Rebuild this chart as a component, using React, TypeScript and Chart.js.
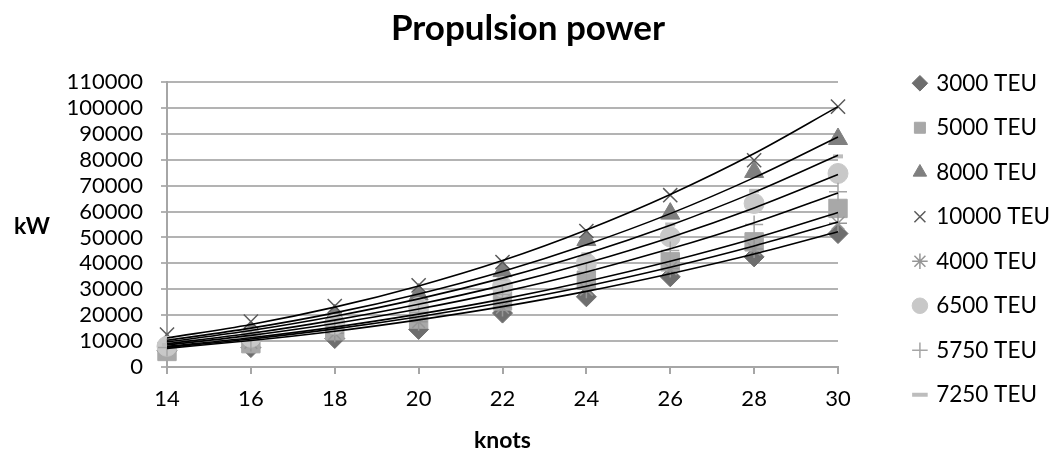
import React, { useEffect, useRef } from 'react';
import { Chart, registerables } from 'chart.js';
Chart.register(...registerables);

const chartTitle = 'Propulsion power';
const xAxisTitle = 'knots';
const yAxisTitle = 'kW';

const knots = [14, 16, 18, 20, 22, 24, 26, 28, 30];

// Series order as in the legend
const seriesLabels = ['3000 TEU', '5000 TEU', '8000 TEU', '10000 TEU', '4000 TEU', '6500 TEU', '5750 TEU', '7250 TEU'];

// Marker values (kW)
const teu3000 = [6300, 7500, 11000, 14500, 20800, 27100, 34800, 42500, 51500];
const teu5000 = [6000, 9000, 14000, 18500, 25500, 33500, 40600, 48300, 61200];
const teu8000 = [9000, 13500, 20000, 28000, 37000, 49000, 59200, 75300, 88000];
const teu10000 = [12500, 17500, 23500, 31500, 40500, 52500, 66300, 79800, 100500];
const teu4000 = [7500, 9500, 13000, 17500, 23000, 30000, 38000, 45500, 55500];
const teu6500 = [8000, 11500, 16500, 23000, 31000, 40000, 50200, 63100, 74700];
const teu5750 = [7500, 10500, 15500, 21000, 28000, 36500, 45000, 55000, 67600];
const teu7250 = [8500, 12500, 18500, 25500, 34000, 43500, 55000, 68000, 81300];

// Black trend lines (kW)
const trend3000 = [7200, 10200, 13800, 18200, 23300, 29200, 36000, 43600, 52200];
const trend5000 = [7900, 11300, 15400, 20400, 26200, 33000, 40800, 49600, 59600];
const trend8000 = [10300, 15000, 20900, 28200, 36900, 47200, 59200, 73100, 88800];
const trend10000 = [11200, 16400, 23100, 31300, 41100, 52900, 66600, 82400, 100500];
const trend4000 = [7600, 10800, 14700, 19400, 24900, 31200, 38500, 46700, 56000];
const trend6500 = [9000, 13000, 18100, 24200, 31500, 40100, 50000, 61400, 74300];
const trend5750 = [8500, 12200, 16800, 22400, 29000, 36700, 45600, 55700, 67200];
const trend7250 = [9700, 14100, 19600, 26300, 34300, 43700, 54700, 67400, 81700];

const markerValues = [teu3000, teu5000, teu8000, teu10000, teu4000, teu6500, teu5750, teu7250];
const trendValues = [trend3000, trend5000, trend8000, trend10000, trend4000, trend6500, trend5750, trend7250];

const markerStyles = [
  { pointStyle: 'rectRot', color: '#6e6e6e', radius: 10, border: 1 },
  { pointStyle: 'rect', color: '#a8a8a8', radius: 13, border: 1 },
  { pointStyle: 'triangle', color: '#7f7f7f', radius: 11, border: 1 },
  { pointStyle: 'crossRot', color: '#5a5a5a', radius: 10, border: 1.5 },
  { pointStyle: 'star', color: '#969696', radius: 9, border: 1.5 },
  { pointStyle: 'circle', color: '#c8c8c8', radius: 10, border: 1 },
  { pointStyle: 'cross', color: '#a5a5a5', radius: 9, border: 1.5 },
  { pointStyle: 'line', color: '#bdbdbd', radius: 5, border: 4 },
];

const FONT = 'Lato';

const kwPlugin = {
  id: 'kwLabel',
  afterLayout(chart: any) {
    const lg = chart.legend;
    if (lg) {
      const w = lg.width;
      lg.right = chart.width + 4;
      lg.left = lg.right - w;
    }
  },
  afterDraw(chart: any) {
    const { ctx, chartArea } = chart;
    ctx.save();
    ctx.font = `bold 23px ${FONT}`;
    ctx.fillStyle = '#000';
    ctx.textAlign = 'center';
    ctx.textBaseline = 'middle';
    ctx.fillText(yAxisTitle, 32, (chartArea.top + chartArea.bottom) / 2 + 2);
    ctx.restore();
  },
};

export default function App() {
  const ref = useRef<HTMLCanvasElement>(null);
  useEffect(() => {
    if (!ref.current) return;
    const n = seriesLabels.length;
    const markerSets = seriesLabels.map((label, i) => {
      const st = markerStyles[i];
      return {
        label,
        data: knots.map((k, j) => ({ x: k, y: markerValues[i][j] })),
        showLine: false,
        clip: false,
        pointStyle: st.pointStyle,
        pointRadius: st.radius,
        pointBackgroundColor: st.color,
        pointBorderColor: st.color,
        pointBorderWidth: st.border,
        backgroundColor: st.color,
        borderColor: st.color,
        order: n - i,
      };
    });
    const trendSets = seriesLabels.map((label, i) => ({
      label: label + ' trend',
      data: knots.map((k, j) => ({ x: k, y: trendValues[i][j] })),
      showLine: true,
      clip: false,
      borderColor: '#000',
      borderWidth: 1.6,
      pointRadius: 0,
      cubicInterpolationMode: 'monotone',
      order: 0,
    }));
    const chart = new Chart(ref.current, {
      type: 'line',
      data: { datasets: [...markerSets, ...trendSets] as any },
      plugins: [kwPlugin],
      options: {
        animation: false,
        responsive: false,
        events: [],
        layout: { padding: 0 },
        plugins: {
          tooltip: { enabled: false },
          title: {
            display: true,
            text: chartTitle,
            color: '#000',
            font: { family: FONT, size: 35, weight: 'bold' },
            padding: { top: 8, bottom: 32 },
          },
          legend: {
            position: 'right',
            align: 'center',
            title: { display: true, text: '', font: { size: 10, lineHeight: 1 }, padding: { top: 4.5, bottom: 4.5 } },
            labels: {
              usePointStyle: true,
              boxWidth: 10,
              boxHeight: 11,
              padding: 22,
              color: '#000',
              font: { family: FONT, size: 22.5 },
              filter: (item: any) => item.datasetIndex < n,
              sort: (a: any, b: any) => a.datasetIndex - b.datasetIndex,
            },
          },
        },
        scales: {
          x: {
            type: 'linear',
            min: 14,
            max: 30,
            ticks: { stepSize: 2, color: '#000', font: { family: FONT, size: 22 }, padding: 12 },
            grid: { drawOnChartArea: false, drawTicks: true, tickLength: 7, color: '#a6a6a6', lineWidth: 2 },
            border: { color: '#a6a6a6', width: 2 },
            title: { display: true, text: xAxisTitle, color: '#000', font: { family: FONT, size: 23, weight: 'bold' }, padding: { top: 0, bottom: 5 } },
            afterFit: (s: any) => { s.paddingRight = 218; s.height = 92; },
          },
          y: {
            min: 0,
            max: 110000,
            ticks: { stepSize: 10000, autoSkip: false, color: '#000', font: { family: FONT, size: 22 }, padding: 18, callback: (v: any) => String(v) },
            grid: { color: '#b3b3b3', lineWidth: 2, drawTicks: true, tickLength: 6 },
            border: { color: '#a6a6a6', width: 2 },
            afterFit: (s: any) => { s.width = 167; },
          },
        },
      } as any,
    });
    return () => chart.destroy();
  }, []);
  return (
    <div style={{ position: 'absolute', left: 0, top: 0, width: 1056, height: 459, background: '#fff' }}>
      <canvas ref={ref} width={1056} height={459} style={{ display: 'block' }} />
    </div>
  );
}
